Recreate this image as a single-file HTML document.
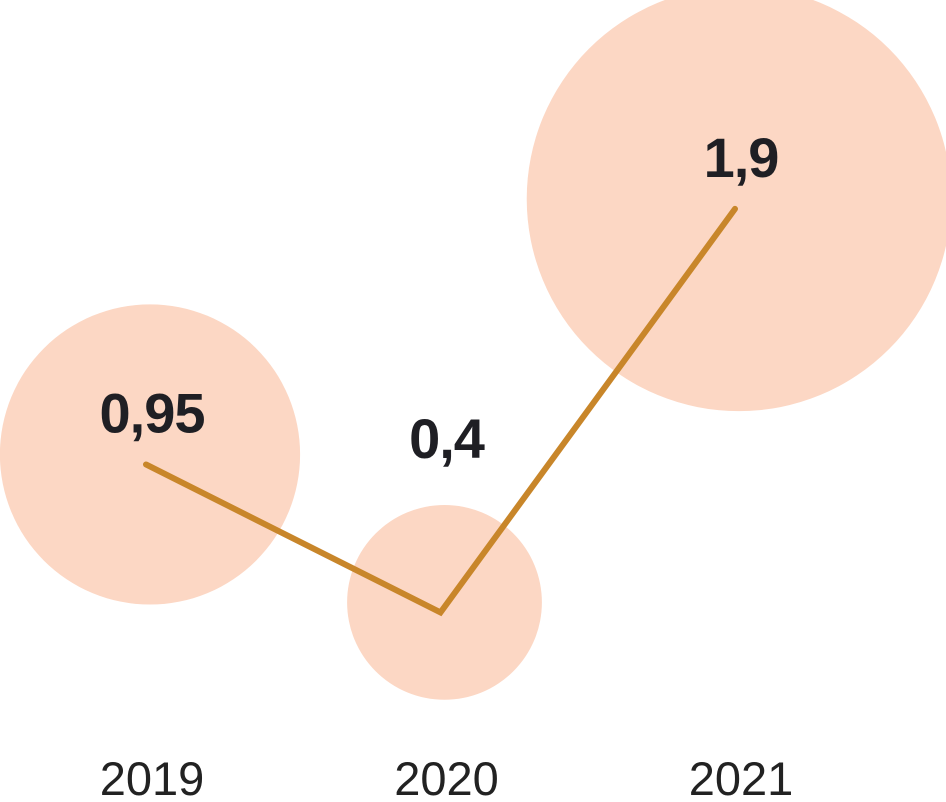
<!DOCTYPE html>
<html><head><meta charset="utf-8"><style>
html,body{margin:0;padding:0;background:#fff;}
svg{display:block;font-family:"Liberation Sans",Arial,sans-serif;}
</style></head><body>
<svg id="chart" width="946" height="802" viewBox="0 0 946 802"></svg>
<script>
const categories = ["2019","2020","2021"];
const values = [0.95, 0.4, 1.9];
const valueLabels = ["0,95","0,4","1,9"];

const NS = "http://www.w3.org/2000/svg";
const svg = document.getElementById('chart');
const xPos = i => 146 + i * 294.5;
const yPos = v => 720 - 269 * v;
const rScale = v => 154 * Math.sqrt(v);

const gC = document.createElementNS(NS,'g');


svg.appendChild(gC);
values.forEach((v,i)=>{
  const c = document.createElementNS(NS,'circle');
  
  
  const cy = yPos(v);
  c.setAttribute('cx', xPos(i) + 4);
  c.setAttribute('cy', cy - 10);
  c.setAttribute('r', rScale(v));
  c.setAttribute('fill','#fcd7c4');
  gC.appendChild(c);
});

const line = document.createElementNS(NS,'polyline');


line.setAttribute('points', values.map((v,i)=>xPos(i)+','+yPos(v)).join(' '));
line.setAttribute('fill','none');
line.setAttribute('stroke','#c8862a');
line.setAttribute('stroke-width','6');
line.setAttribute('stroke-linecap','round');
line.setAttribute('stroke-linejoin','miter');
svg.appendChild(line);

values.forEach((v,i)=>{
  const t = document.createElementNS(NS,'text');
  
  
  const r = rScale(v), cy = yPos(v);
  const y = r < 120 ? cy - 10 - r - 47 : cy - 32;
  t.setAttribute('x', xPos(i) + 6);
  t.setAttribute('y', y);
  t.setAttribute('text-anchor','middle');
  t.setAttribute('font-size','56');
  t.setAttribute('font-weight','bold');
  t.setAttribute('letter-spacing','-1');
  t.setAttribute('fill','#1f1f24');
  t.textContent = valueLabels[i];
  svg.appendChild(t);
});

categories.forEach((c,i)=>{
  const t = document.createElementNS(NS,'text');
  
  
  t.setAttribute('x', xPos(i) + 6);
  t.setAttribute('y', 795);
  t.setAttribute('text-anchor','middle');
  t.setAttribute('font-size','47');
  t.setAttribute('fill','#222');
  t.textContent = c;
  svg.appendChild(t);
});
</script>
</body></html>
